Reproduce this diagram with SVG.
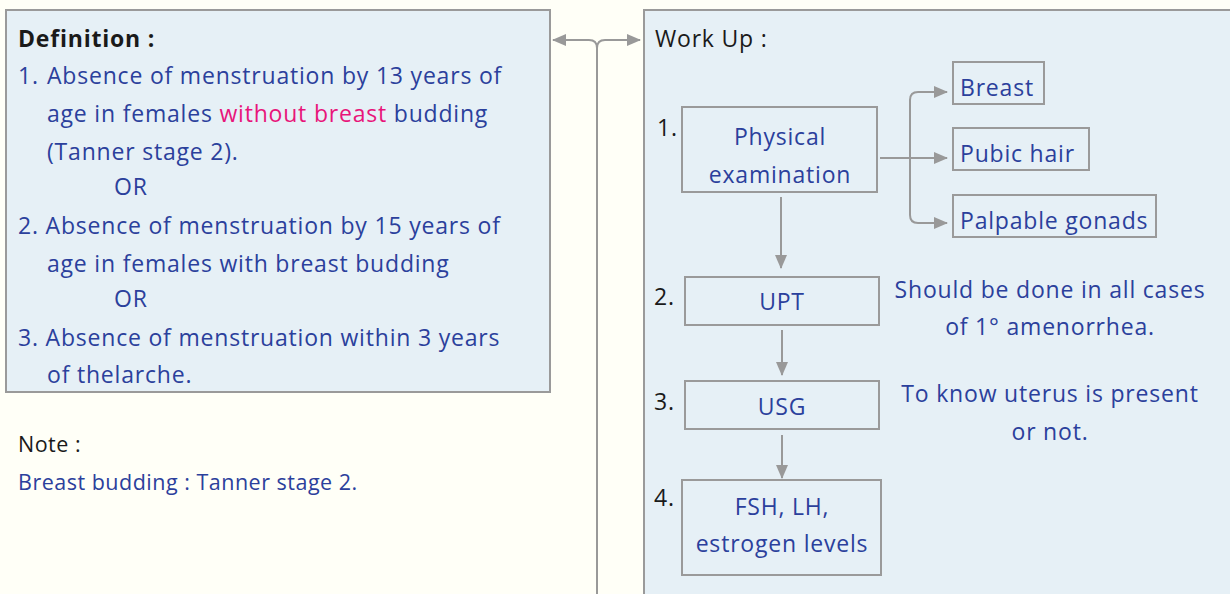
<svg xmlns="http://www.w3.org/2000/svg" width="1230" height="594" viewBox="0 0 1230 594">
<defs>
<marker id="ah" viewBox="0 0 14 12" refX="13" refY="6" markerWidth="14" markerHeight="12" markerUnits="userSpaceOnUse" orient="auto-start-reverse">
<path d="M0,0 L14,6 L0,12 z" fill="#999"/>
</marker>
<style>
.panel{fill:#E6F0F6;stroke:#9a9a9a;stroke-width:2}
.box{fill:#E6F0F6;stroke:#9a9a9a;stroke-width:2}
.t{font-family:"Open Sans","Liberation Sans",sans-serif;font-size:23px;letter-spacing:0.8px;fill:#2B409C}
.k{font-family:"Open Sans","Liberation Sans",sans-serif;font-size:23px;letter-spacing:0.8px;fill:#1a1a1a}
.sm{font-size:21.5px;letter-spacing:0.5px}
.c{text-anchor:middle}
.pink{fill:#E8157A}
.ln{fill:none;stroke:#999;stroke-width:2}
</style>
</defs>
<rect width="1230" height="594" fill="#FFFFF7"/>
<g id="definition">
<rect class="panel" x="6" y="10" width="544" height="382"/>
<text class="k" x="18" y="47" font-weight="bold">Definition :</text>
<text class="t" x="18" y="84">1.</text>
<text class="t" x="47" y="84">Absence of menstruation by 13 years of</text>
<text class="t" x="47" y="122">age in females <tspan class="pink">without breast</tspan> budding</text>
<text class="t" x="47" y="160">(Tanner stage 2).</text>
<text class="t" x="114" y="195">OR</text>
<text class="t" x="18" y="234">2. Absence of menstruation by 15 years of</text>
<text class="t" x="47" y="272">age in females with breast budding</text>
<text class="t" x="114" y="307">OR</text>
<text class="t" x="18" y="346">3. Absence of menstruation within 3 years</text>
<text class="t" x="47" y="383">of thelarche.</text>
</g>
<g id="note">
<text class="k sm" x="18" y="452">Note :</text>
<text class="t sm" x="18" y="490">Breast budding : Tanner stage 2.</text>
</g>
<g id="workup">
<rect class="panel" x="644" y="10" width="600" height="600"/>
<text class="k" x="655" y="47">Work Up :</text>
</g>
<g id="physical">
<text class="k" x="657" y="136">1.</text>
<rect class="box" x="682" y="107" width="195" height="85"/>
<text class="t c" x="780" y="145">Physical</text>
<text class="t c" x="780" y="183">examination</text>
</g>
<g id="breast">
<rect class="box" x="953" y="62" width="91" height="42"/>
<text class="t" x="960" y="96">Breast</text>
</g>
<g id="pubic">
<rect class="box" x="953" y="128" width="136" height="42"/>
<text class="t" x="960" y="162">Pubic hair</text>
</g>
<g id="gonads">
<rect class="box" x="953" y="195" width="203" height="42"/>
<text class="t" x="960" y="229">Palpable gonads</text>
</g>
<g id="upt">
<text class="k" x="654" y="305">2.</text>
<rect class="box" x="685" y="277" width="194" height="48"/>
<text class="t c" x="782" y="310">UPT</text>
<text class="t c" x="1050" y="298">Should be done in all cases</text>
<text class="t c" x="1050" y="335">of 1° amenorrhea.</text>
</g>
<g id="usg">
<text class="k" x="654" y="410">3.</text>
<rect class="box" x="685" y="381" width="194" height="48"/>
<text class="t c" x="782" y="415">USG</text>
<text class="t c" x="1050" y="402">To know uterus is present</text>
<text class="t c" x="1050" y="440">or not.</text>
</g>
<g id="hormones">
<text class="k" x="654" y="506">4.</text>
<rect class="box" x="682" y="480" width="199" height="95"/>
<text class="t c" x="782" y="515">FSH, LH,</text>
<text class="t c" x="782" y="552">estrogen levels</text>
</g>
<g id="connectors">
<path class="ln" d="M597,594 V48 Q597,40 589,40 H553" marker-end="url(#ah)"/>
<path class="ln" d="M597,48 Q597,40 605,40 H640" marker-end="url(#ah)"/>
<path class="ln" d="M880,158 H947" marker-end="url(#ah)"/>
<path class="ln" d="M910,158 V100 Q910,92 918,92 H947" marker-end="url(#ah)"/>
<path class="ln" d="M910,158 V215 Q910,223 918,223 H947" marker-end="url(#ah)"/>
<path class="ln" d="M781,197 V268" marker-end="url(#ah)"/>
<path class="ln" d="M782,330 V375" marker-end="url(#ah)"/>
<path class="ln" d="M782,435 V478" marker-end="url(#ah)"/>
</g>
</svg>
